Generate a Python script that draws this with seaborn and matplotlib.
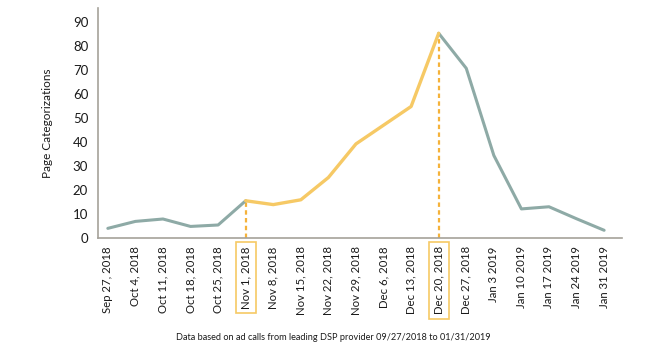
import pandas as pd
import numpy as np
import matplotlib.pyplot as plt
import seaborn as sns

dates = ["Sep 27, 2018", "Oct 4, 2018", "Oct 11, 2018", "Oct 18, 2018", "Oct 25, 2018",
         "Nov 1, 2018", "Nov 8, 2018", "Nov 15, 2018", "Nov 22, 2018", "Nov 29, 2018",
         "Dec 6, 2018", "Dec 13, 2018", "Dec 20, 2018", "Dec 27, 2018", "Jan 3 2019",
         "Jan 10 2019", "Jan 17 2019", "Jan 24 2019", "Jan 31 2019"]
values = [4, 6.9, 7.9, 4.8, 5.4, 15.5, 13.9, 15.9, 25.2, 39.2,
          47, 54.8, 85.3, 70.7, 34.4, 12.1, 13.0, 8, 3.2]
highlight_start = "Nov 1, 2018"
highlight_end = "Dec 20, 2018"

grey = "#8eaaa6"
yellow = "#f6c965"
orange = "#f5b23a"
spine_col = "#a5a29a"

sns.set_style("white")
plt.rcParams["font.family"] = ["Lato", "DejaVu Sans"]

df = pd.DataFrame({"date": dates, "value": values})
df["i"] = np.arange(len(df))
i0 = dates.index(highlight_start)
i1 = dates.index(highlight_end)

fig = plt.figure(figsize=(6.66, 3.52), dpi=100)
ax = fig.add_axes([0.147, 0.324, 0.787, 0.653])

sns.lineplot(data=df[df.i <= i0], x="i", y="value", color=grey, lw=2.2, ax=ax)
sns.lineplot(data=df[df.i >= i1], x="i", y="value", color=grey, lw=2.2, ax=ax)
sns.lineplot(data=df[(df.i >= i0) & (df.i <= i1)], x="i", y="value", color=yellow, lw=2.4, ax=ax)

for k in (i0, i1):
    ax.vlines(k, 0, values[k], colors=orange, linestyles=(0, (2, 1.5)), lw=1.6, zorder=1)

ax.set_xlim(-0.36, len(dates) - 0.35)
ax.set_ylim(0, 95.8)
ax.set_yticks(range(0, 100, 10))
ax.set_xticks(df.i)
ax.set_xticklabels(dates, rotation=90)
ax.tick_params(axis="y", length=0, labelsize=9.5, colors="#1a1a1a", pad=7)
ax.tick_params(axis="x", length=0, labelsize=8.2, colors="#1a1a1a", pad=6)
ax.set_xlabel("")
ax.set_ylabel("Page Categorizations", fontsize=8.5, color="#1a1a1a", labelpad=14)

for lab in ax.get_xticklabels():
    if lab.get_text() in (highlight_start, highlight_end):
        lab.set_bbox(dict(facecolor="none", edgecolor=yellow, lw=1.2, pad=3.2))

sns.despine(ax=ax)
for s in ("left", "bottom"):
    ax.spines[s].set_color(spine_col)
    ax.spines[s].set_linewidth(1.2)

fig.text(0.5, 0.04, "Data based on ad calls from leading DSP provider 09/27/2018 to 01/31/2019",
         ha="center", va="center", fontsize=6.6, color="#1a1a1a")

fig.savefig("out.png", dpi=100)
